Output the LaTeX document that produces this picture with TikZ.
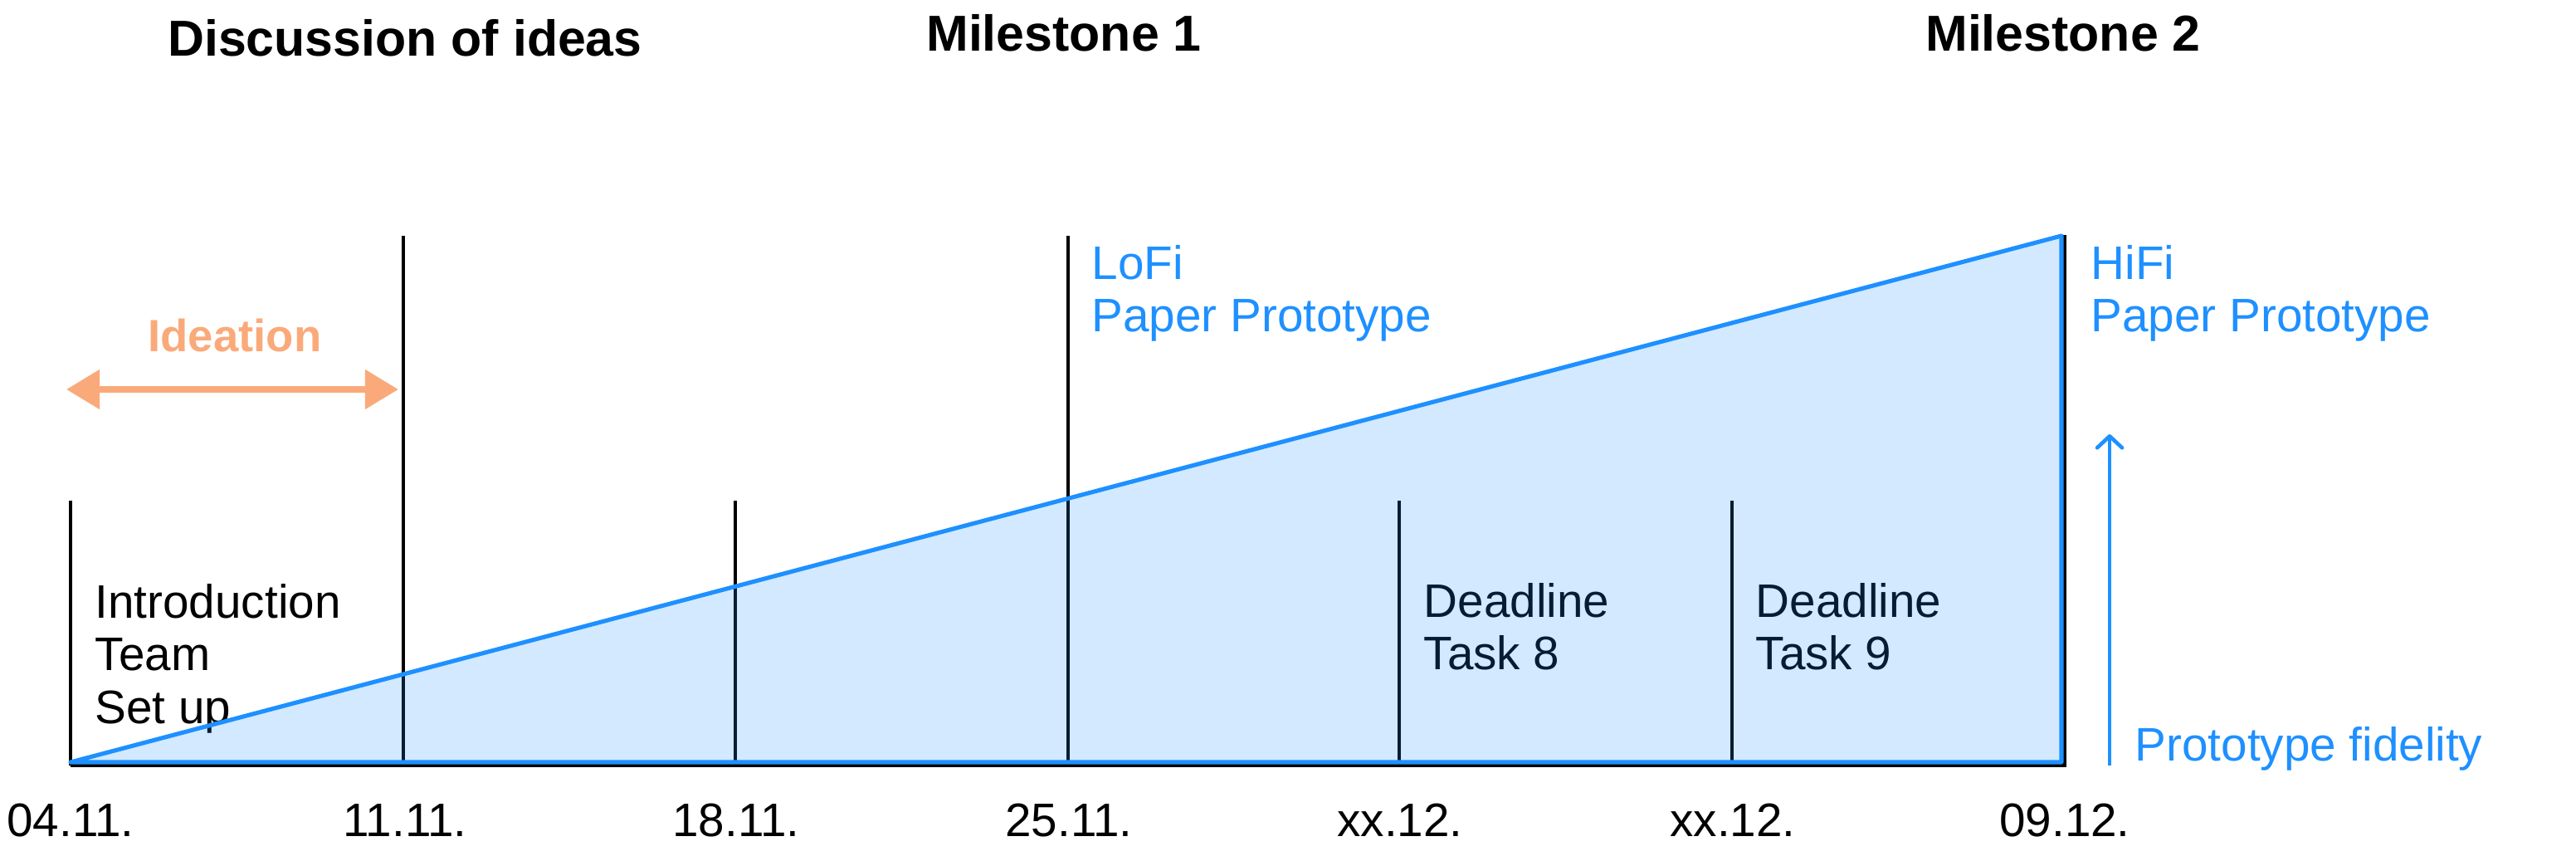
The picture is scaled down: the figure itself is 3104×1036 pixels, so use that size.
\documentclass[tikz,border=0pt]{standalone}
\usepackage{fontspec}
\setmainfont{Liberation Sans}
\usetikzlibrary{arrows.meta}
\definecolor{fblue}{RGB}{30,144,255}
\definecolor{forange}{RGB}{250,170,122}
\newcommand{\regsize}{\fontsize{16.1pt}{18.07pt}\selectfont}
\newcommand{\titlesize}{\fontsize{17.3pt}{21pt}\selectfont\bfseries}
\newcommand{\stacklines}[1]{\vtop{\lineskiplimit=-\maxdimen\baselineskip=18.07pt\relax #1}}
\begin{document}
\begin{tikzpicture}[x=0.01cm,y=-0.01cm,
  txt/.style={inner sep=0pt, font=\regsize, anchor=base west},
  datetxt/.style={inner sep=0pt, font=\regsize, anchor=base},
  titletxt/.style={inner sep=0pt, font=\titlesize, anchor=base},
  bluetxt/.style={txt, text=fblue},
  tick/.style={draw=black, line width=0.95pt},
  fidline/.style={draw=fblue, line width=1.45pt, line join=round},
  fidfill/.style={fill=fblue, fill opacity=0.2},
  ideaarrow/.style={draw=forange, line width=2.2pt, {Triangle[length=0.4cm,width=0.46cm]}-{Triangle[length=0.4cm,width=0.46cm]}},
  fidarrow/.style={draw=fblue, line width=1.3pt, -{Straight Barb[length=0.14cm,width=0.3cm,round]}}]
\useasboundingbox (0,0) rectangle (3104,1036);

% coordinates
\coordinate (b1) at (85,922);   \coordinate (t1) at (85,603);
\coordinate (b2) at (486,922);  \coordinate (t2) at (486,284);
\coordinate (b3) at (886,922);  \coordinate (t3) at (886,603);
\coordinate (b4) at (1287,922); \coordinate (t4) at (1287,284);
\coordinate (b5) at (1686,922); \coordinate (t5) at (1686,603);
\coordinate (b6) at (2087,922); \coordinate (t6) at (2087,603);
\coordinate (b7) at (2488,922); \coordinate (t7) at (2488,283);

% black timeline lines
\draw[tick] (t1) -- (b1);
\draw[tick] (t2) -- (b2);
\draw[tick] (t3) -- (b3);
\draw[tick] (t4) -- (b4);
\draw[tick] (t5) -- (b5);
\draw[tick] (t6) -- (b6);
\draw[tick] (b1) -- (b7) -- (t7);

% texts inside the triangle area
\node[txt] (intro) at (114,744) {\stacklines{\hbox{Introduction}\hbox{Team}\hbox{Set up}}};
\node[txt] (dl8) at (1715,743) {\stacklines{\hbox{Deadline}\hbox{Task 8}}};
\node[txt] (dl9) at (2115,743) {\stacklines{\hbox{Deadline}\hbox{Task 9}}};

% fidelity triangle
\coordinate (p0) at (85,918);
\coordinate (p1) at (2484,284);
\coordinate (p2) at (2484,918);
\fill[fidfill] (p0) -- (p1) -- (p2) -- cycle;
\draw[fidline] (p0) -- (p1) -- (p2) -- cycle;

% titles
\node[titletxt] (disc) at (488,67) {Discussion of ideas};
\node[titletxt] (ms1) at (1282,61) {Milestone 1};
\node[titletxt] (ms2) at (2486,61) {Milestone 2};

% ideation
\node[inner sep=0pt, anchor=base, font=\fontsize{15.5pt}{18pt}\selectfont\bfseries, text=forange] (idea) at (283,423) {Ideation};
\coordinate (ia) at (80,469);
\coordinate (ib) at (480,469);
\draw[ideaarrow] (ia) -- (ib);

% prototype labels
\node[bluetxt] (lofi) at (1315,336) {\stacklines{\hbox{LoFi}\hbox{Paper Prototype}}};
\node[bluetxt] (hifi) at (2519,336) {\stacklines{\hbox{HiFi}\hbox{Paper Prototype}}};

% fidelity arrow
\coordinate (fa) at (2542,922);
\coordinate (fb) at (2542,523);
\draw[fidarrow] (fa) -- (fb);
\node[bluetxt] (fid) at (2572,916) {Prototype fidelity};

% dates
\node[datetxt] (d1) at (85,1007) {04.11.};
\node[datetxt] (d2) at (488,1007) {11.11.};
\node[datetxt] (d3) at (887,1007) {18.11.};
\node[datetxt] (d4) at (1288,1007) {25.11.};
\node[datetxt] (d5) at (1687,1007) {xx.12.};
\node[datetxt] (d6) at (2088,1007) {xx.12.};
\node[datetxt] (d7) at (2488,1007) {09.12.};
\end{tikzpicture}
\end{document}
